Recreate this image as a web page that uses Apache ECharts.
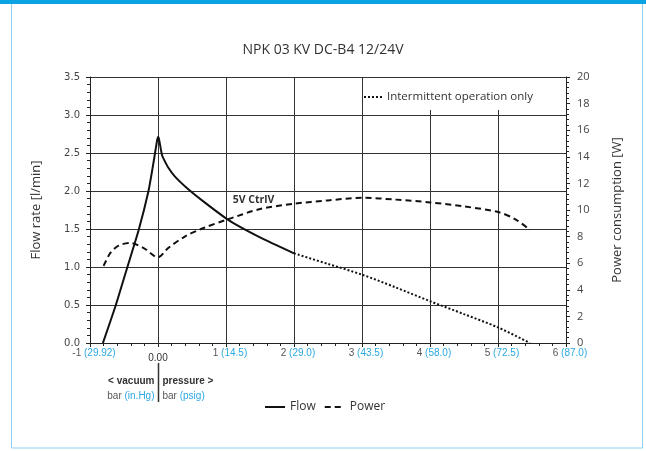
<!DOCTYPE html>
<html>
<head>
<meta charset="utf-8">
<script src="https://cdn.jsdelivr.net/npm/echarts@6/dist/echarts.min.js"></script>
<style>
html, body { margin: 0; padding: 0; background: #fff; }
#main { width: 646px; height: 451px; }
</style>
</head>
<body>
<div id="main"></div>
<script>
// flow curve, continuous operation (solid)
var flowX = [-0.81, -0.62, -0.45, -0.28, -0.14, -0.08, -0.04, -0.02, -0.01, 0, 0.01, 0.02, 0.04, 0.06, 0.09, 0.15, 0.25, 0.45, 0.7, 1.0, 1.2, 1.5, 2.0];
var flowY = [0, 0.5, 1.0, 1.5, 2.0, 2.3, 2.52, 2.63, 2.68, 2.71, 2.70, 2.66, 2.56, 2.47, 2.41, 2.31, 2.19, 2.02, 1.84, 1.64, 1.53, 1.39, 1.18];
// flow curve, intermittent operation only (dotted)
var intX = [2.0, 2.5, 3.0, 3.5, 4.0, 4.5, 5.0, 5.47];
var intY = [1.18, 1.04, 0.90, 0.73, 0.55, 0.38, 0.205, 0];
// power consumption [W] (dashed, right axis)
var powerX = [-0.8, -0.7, -0.58, -0.41, -0.21, 0, 0.15, 0.4, 0.67, 1.0, 1.5, 2.0, 2.5, 3.0, 3.5, 4.0, 4.5, 5.0, 5.25, 5.47];
var powerY = [5.8, 6.77, 7.32, 7.52, 7.14, 6.44, 7.14, 8.02, 8.65, 9.25, 10.07, 10.47, 10.72, 10.92, 10.78, 10.57, 10.27, 9.85, 9.32, 8.5];
// x tick labels: bar and (in.Hg / psig)
var xTickNums = ['-1', '0.00', '1', '2', '3', '4', '5', '6'];
var xTickAlt = ['(29.92)', '', '(14.5)', '(29.0)', '(43.5)', '(58.0)', '(72.5)', '(87.0)'];

function pairs(xs, ys) {
	return xs.map(function (x, i) { return [x, ys[i]]; });
}

var blue = '#2aa8e0';
var chart = echarts.init(document.getElementById('main'));

var option = {
	backgroundColor: '#fff',
	animation: false,
	title: {
		text: 'NPK 03 KV DC-B4 12/24V',
		left: 'center',
		top: 38,
		textStyle: { fontFamily: 'Open Sans', fontSize: 14, fontWeight: 'normal', color: '#333' }
	},
	legend: [
		{
			data: ['Flow', 'Power'],
			left: 259,
			top: 396,
			itemWidth: 20,
			itemHeight: 10,
			itemGap: 8,
			itemStyle: { opacity: 0 },
			textStyle: { fontFamily: 'Open Sans', fontSize: 12, color: '#333' }
		},
		{
			data: ['Intermittent operation only'],
			left: 363,
			top: 78,
			backgroundColor: '#fff',
			padding: [13, 30, 7, 0],
			itemWidth: 18,
			itemHeight: 10,
			itemGap: 4,
			itemStyle: { opacity: 0 },
			textStyle: { fontFamily: 'Open Sans', fontSize: 11.5, color: '#333' }
		}
	],
	grid: { left: 90, right: 80, top: 77, bottom: 108 },
	xAxis: {
		type: 'value',
		min: -1,
		max: 6,
		interval: 1,
		axisLine: { onZero: false, lineStyle: { color: '#222', width: 1 } },
		axisTick: { show: true, length: 4, lineStyle: { color: '#222' } },
		minorTick: { show: true, splitNumber: 5, length: 3, lineStyle: { color: '#222' } },
		splitLine: { show: true, lineStyle: { color: '#333', width: 1 } },
		axisLabel: {
			margin: 5,
			fontFamily: 'Liberation Sans',
			fontSize: 10,
			padding: [0, 0, 0, 8],
			formatter: function (v) {
				var i = Math.round(v) + 1;
				if (v === 0) return '{z|0.00}';
				return '{n|' + xTickNums[i] + '} {p|' + xTickAlt[i] + '}';
			},
			rich: {
				n: { color: '#555', fontFamily: 'Liberation Sans', fontSize: 10 },
				p: { color: blue, fontFamily: 'Liberation Sans', fontSize: 10 },
				z: { color: '#333', fontFamily: 'Liberation Sans', fontSize: 10, padding: [5, 8, 0, 0] }
			}
		}
	},
	yAxis: [
		{
			type: 'value',
			min: 0,
			max: 3.5,
			interval: 0.5,
			name: 'Flow rate [l/min]',
			nameLocation: 'middle',
			nameGap: 47,
			nameTextStyle: { fontFamily: 'Open Sans', fontSize: 13, color: '#333' },
			axisLine: { show: true, onZero: false, lineStyle: { color: '#222' } },
			axisTick: { show: true, length: 4, lineStyle: { color: '#222' } },
			minorTick: { show: true, splitNumber: 5, length: 3, lineStyle: { color: '#222' } },
			splitLine: { show: true, lineStyle: { color: '#333', width: 1 } },
			axisLabel: {
				margin: 10,
				fontFamily: 'DejaVu Sans',
				fontSize: 10,
				color: '#444',
				formatter: function (v) { return v.toFixed(1); }
			}
		},
		{
			type: 'value',
			min: 0,
			max: 20,
			interval: 2,
			name: 'Power consumption [W]',
			nameLocation: 'middle',
			nameGap: 45,
			nameRotate: 90,
			nameTextStyle: { fontFamily: 'Open Sans', fontSize: 13, color: '#333' },
			axisLine: { show: true, onZero: false, lineStyle: { color: '#222' } },
			axisTick: { show: true, length: 4, lineStyle: { color: '#222' } },
			minorTick: { show: true, splitNumber: 5, length: 3, lineStyle: { color: '#222' } },
			splitLine: { show: false },
			axisLabel: {
				margin: 11,
				fontFamily: 'Open Sans',
				fontSize: 11,
				color: '#444'
			}
		}
	],
	series: [
		{
			name: 'Flow',
			type: 'line',
			data: pairs(flowX, flowY),
			symbol: 'none',
			smooth: 0.2,
			color: '#111',
			lineStyle: { color: '#111', width: 2 }
		},
		{
			name: 'Intermittent operation only',
			type: 'line',
			data: pairs(intX, intY),
			symbol: 'none',
			smooth: 0.3,
			color: '#111',
			lineStyle: { color: '#111', width: 2, type: [2, 2] }
		},
		{
			name: 'Power',
			type: 'line',
			yAxisIndex: 1,
			data: pairs(powerX, powerY),
			symbol: 'none',
			smooth: 0.3,
			color: '#111',
			lineStyle: { color: '#111', width: 2, type: [6, 4] }
		}
	]
};
chart.setOption(option);

// annotations below the x axis, placed from the axis scale
var p0 = chart.convertToPixel({ xAxisIndex: 0, yAxisIndex: 0 }, [0, 0]);
var pLbl = chart.convertToPixel({ xAxisIndex: 0, yAxisIndex: 0 }, [1.1, 1.88]);
var x0 = Math.round(p0[0]) + 0.5;
var boldFont = 'bold 10px "Liberation Sans"';
var normFont = '10px "Liberation Sans"';
chart.setOption({
	graphic: [
		{ type: 'rect', silent: true, shape: { x: 11.5, y: 0, width: 631, height: 448 }, style: { fill: null, stroke: '#8fd0f0', lineWidth: 1 } },
		{ type: 'rect', silent: true, shape: { x: 0, y: 0, width: 646, height: 4 }, style: { fill: '#0aa2e2' } },
		{ type: 'line', silent: true, shape: { x1: x0, y1: 363, x2: x0, y2: 402 }, style: { stroke: '#333', lineWidth: 1.5 } },
		{ type: 'text', silent: true, x: x0 - 4, y: 381, style: { text: '< vacuum', font: boldFont, fill: '#333', textAlign: 'right', textVerticalAlign: 'middle' } },
		{ type: 'text', silent: true, x: x0 + 4, y: 381, style: { text: 'pressure >', font: boldFont, fill: '#333', textAlign: 'left', textVerticalAlign: 'middle' } },
		{ type: 'text', silent: true, x: x0 - 4, y: 396, style: { text: '{g|bar} {b|(in.Hg)}', font: normFont, textAlign: 'right', textVerticalAlign: 'middle', rich: { g: { fill: '#555', font: normFont }, b: { fill: blue, font: normFont } } } },
		{ type: 'text', silent: true, x: x0 + 4, y: 396, style: { text: '{g|bar} {b|(psig)}', font: normFont, textAlign: 'left', textVerticalAlign: 'middle', rich: { g: { fill: '#555', font: normFont }, b: { fill: blue, font: normFont } } } },
		{ type: 'text', silent: true, x: pLbl[0], y: pLbl[1], style: { text: '5V CtrlV', font: 'bold 10.5px "Open Sans"', fill: '#333', textAlign: 'left', textVerticalAlign: 'middle' } }
	]
});
</script>
</body>
</html>
